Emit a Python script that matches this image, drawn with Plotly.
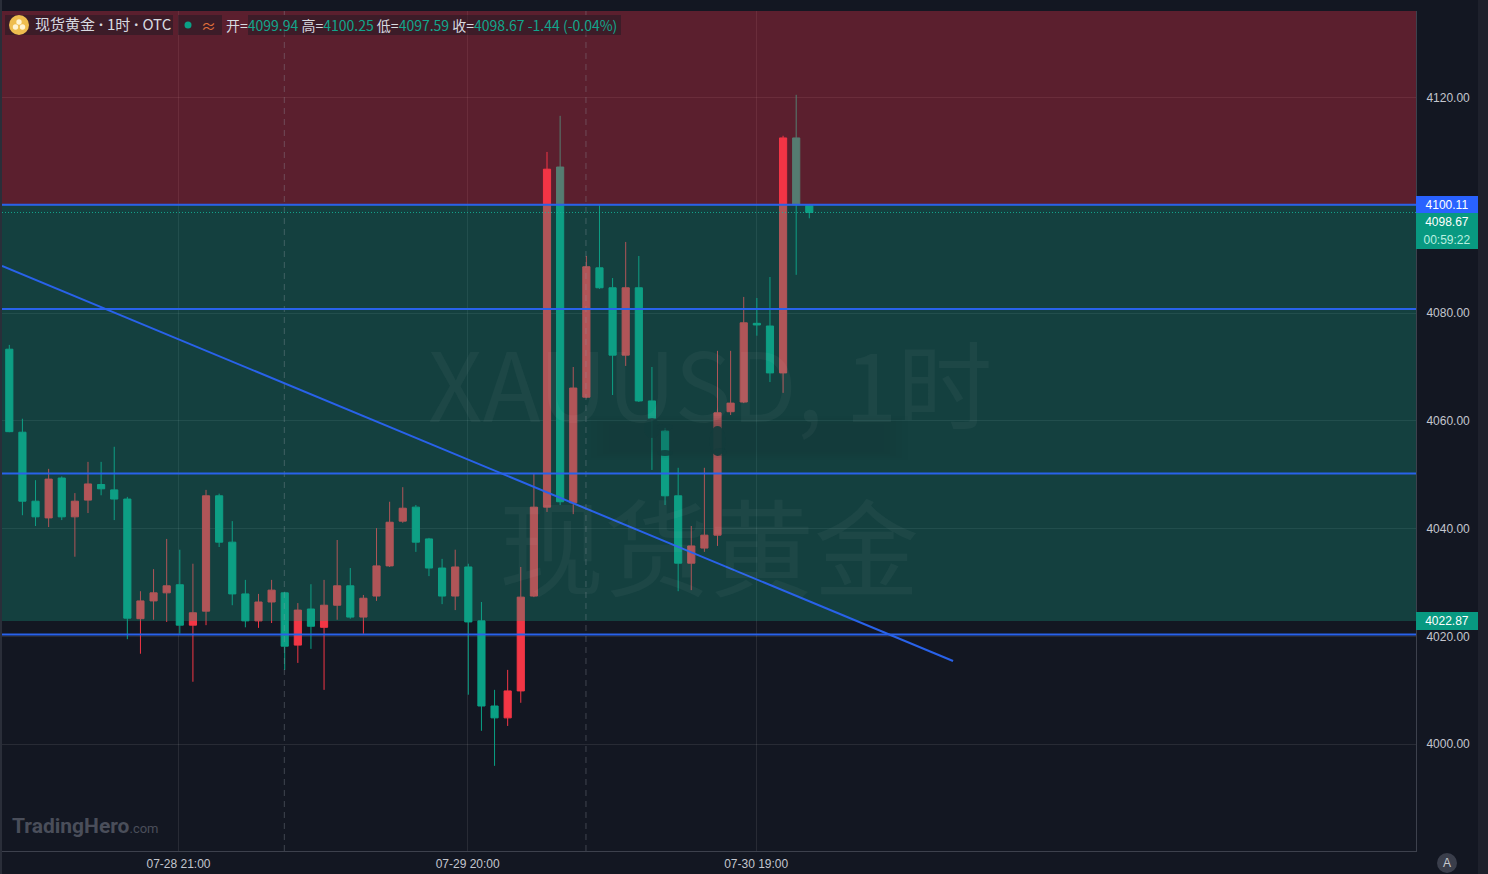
import plotly.graph_objects as go

idx = list(range(62))
opens = [4073.3,4057.9,4045.1,4042.0,4049.4,4042.2,4045.3,4048.2,4047.2,4045.5,
         4023.3,4026.6,4028.1,4029.6,4022.1,4024.7,4046.1,4037.5,4027.9,4022.9,
         4026.4,4028.1,4018.4,4025.1,4021.7,4025.8,4029.4,4023.6,4027.5,4033.1,
         4041.4,4044.0,4038.1,4032.7,4027.5,4032.9,4022.9,4007.1,4004.9,4009.9,
         4027.5,4044.0,4107.1,4044.8,4064.4,4088.4,4084.7,4072.2,4084.7,4063.7,
         4058.1,4046.1,4033.6,4036.4,4038.8,4061.7,4063.5,4078.1,4077.6,4068.9,
         4112.5,4099.94]
highs = [4074.1,4060.4,4049.0,4051.1,4049.7,4046.6,4052.4,4052.4,4055.2,4045.9,
         4028.4,4032.5,4038.1,4036.1,4033.5,4047.2,4046.5,4041.4,4030.5,4027.9,
         4030.5,4028.3,4026.2,4029.7,4030.5,4037.9,4032.7,4027.7,4040.1,4045.0,
         4047.7,4044.4,4038.3,4034.4,4036.1,4033.5,4026.4,4010.1,4013.8,4032.9,
         4050.3,4109.9,4116.6,4070.0,4090.6,4100.2,4086.5,4093.2,4090.6,4070.0,
         4058.7,4051.3,4040.5,4051.3,4073.0,4073.0,4083.0,4082.8,4086.7,4112.9,
         4120.5,4100.25]
lows = [4057.9,4042.5,4040.5,4040.3,4041.6,4034.8,4042.9,4046.2,4041.6,4019.5,
        4016.8,4023.1,4022.7,4020.5,4011.6,4022.1,4036.6,4025.8,4021.7,4021.6,
        4022.5,4013.8,4015.1,4017.7,4010.1,4023.1,4023.3,4020.5,4026.6,4032.9,
        4041.1,4035.7,4031.2,4026.0,4024.9,4009.2,4002.5,3996.0,4003.4,4007.7,
        4027.3,4043.1,4044.4,4042.7,4064.2,4084.5,4064.8,4070.2,4063.5,4050.9,
        4044.4,4028.4,4028.6,4035.7,4036.8,4061.1,4063.3,4075.8,4067.2,4065.2,
        4087.1,4097.59]
closes = [4058.0,4045.1,4042.2,4049.2,4042.2,4045.1,4048.3,4047.4,4045.5,4023.4,
          4026.6,4028.1,4029.4,4022.1,4024.4,4046.1,4037.5,4027.9,4022.9,4026.4,
          4028.6,4018.2,4024.9,4021.9,4025.8,4029.4,4023.6,4027.1,4033.1,4041.2,
          4043.8,4037.5,4032.7,4027.5,4032.9,4022.7,4007.1,4004.9,4009.9,4027.3,
          4044.0,4106.7,4045.0,4066.1,4088.6,4084.7,4072.2,4084.7,4063.7,4060.5,
          4046.1,4033.6,4036.8,4038.8,4061.5,4063.3,4078.2,4077.8,4068.9,4112.5,
          4100.1,4098.67]

price_ticks = [4000, 4020, 4040, 4060, 4080, 4100, 4120]
time_pos = [12.9, 34.95, 56.95]
time_labels = ["07-28 21:00", "07-29 20:00", "07-30 19:00"]
session_lines = [21, 44]
levels = [4100.11, 4080.76, 4050.24, 4020.37]
trend_x = [-0.557, 71.96]
trend_y = [4088.74, 4015.45]
zone_top = 4100.11
zone_bottom = 4022.87
last_price = 4098.67

UP = "#f23645"
DOWN = "#0aa085"
BLUE = "#2962ea"
BG = "#131722"
W, H = 1488, 874
L, R, T, B = 2, 1416, 11, 851


def px(x):
    return (x - L) / (R - L)


def py(y):
    return (B - y) / (B - T)


fig = go.Figure(go.Candlestick(
    x=idx, open=opens, high=highs, low=lows, close=closes,
    increasing=dict(line=dict(color=UP, width=1), fillcolor=UP),
    decreasing=dict(line=dict(color=DOWN, width=1), fillcolor=DOWN),
    whiskerwidth=0, hoverinfo="skip", showlegend=False,
))

shapes = []
# zones
shapes.append(dict(type="rect", xref="paper", yref="y", x0=0, x1=1, y0=zone_top, y1=4136.05,
                   fillcolor="rgba(245,50,70,0.32)", line_width=0, layer="above"))
shapes.append(dict(type="rect", xref="paper", yref="y", x0=0, x1=1, y0=zone_bottom, y1=zone_top,
                   fillcolor="rgba(22,160,132,0.30)", line_width=0, layer="above"))
# obscured patch over the middle of the chart (soft edged, same tone as the zone)
for inset in range(0, 12, 2):
    shapes.append(dict(type="rect", xref="paper", yref="paper",
                       x0=px(585 + inset * 3), x1=px(908 - inset * 3),
                       y0=py(460 - inset), y1=py(416 + inset),
                       fillcolor="rgba(12,52,50,0.05)", line_width=0, layer="above"))
for cx, cy, rx, ry, alpha in [(717.5, 441, 8, 15, 0.92), (665, 453, 8, 3, 0.85), (652, 428, 8, 10, 0.85),
                              (665, 427, 8, 3, 0.6), (720, 452, 7, 4, 0.4)]:
    shapes.append(dict(type="circle", xref="paper", yref="paper",
                       x0=px(cx - rx), x1=px(cx + rx), y0=py(cy + ry), y1=py(cy - ry),
                       fillcolor=f"rgba(18,60,60,{alpha})", line_width=0, layer="above"))
# session separators
for s in session_lines:
    shapes.append(dict(type="line", xref="x", yref="paper", x0=s - 0.03, x1=s - 0.03, y0=0, y1=1,
                       line=dict(color="rgba(150,155,165,0.35)", width=1, dash="6px,5px"), layer="above"))
# price line
shapes.append(dict(type="line", xref="paper", yref="y", x0=0, x1=1, y0=last_price, y1=last_price,
                   line=dict(color="rgba(20,190,160,0.8)", width=1, dash="1px,2px"), layer="above"))
# level lines
for lv in levels:
    shapes.append(dict(type="line", xref="paper", yref="y", x0=0, x1=1, y0=lv, y1=lv,
                       line=dict(color=BLUE, width=2), layer="above"))
shapes.append(dict(type="line", xref="x", yref="y", x0=trend_x[0], x1=trend_x[1], y0=trend_y[0], y1=trend_y[1],
                   line=dict(color=BLUE, width=2), layer="above"))
# chrome: left strip, scrollbar
shapes.append(dict(type="rect", xref="paper", yref="paper", x0=px(0), x1=px(2), y0=py(874), y1=py(0),
                   fillcolor="#2a2e39", line_width=0, layer="above"))
shapes.append(dict(type="rect", xref="paper", yref="paper", x0=px(1478), x1=px(1488), y0=py(874), y1=py(0),
                   fillcolor="#1e212c", line_width=0, layer="above"))
# header backgrounds
for x0, x1 in [(5, 173), (178, 222), (248, 621)]:
    shapes.append(dict(type="rect", xref="paper", yref="paper", x0=px(x0), x1=px(x1), y0=py(35), y1=py(15),
                       fillcolor="rgba(19,23,34,0.42)", line_width=0, layer="above"))
# logo
shapes.append(dict(type="circle", xref="paper", yref="paper", x0=px(9), x1=px(29), y0=py(35), y1=py(15),
                   fillcolor="#eebd4f", line_width=0, layer="above"))
for cx, cy in [(19, 22), (15.5, 27), (22.5, 27)]:
    shapes.append(dict(type="circle", xref="paper", yref="paper", x0=px(cx - 2.7), x1=px(cx + 2.7),
                       y0=py(cy + 2.7), y1=py(cy - 2.7), fillcolor="#fff3d2", line_width=0, layer="above"))
shapes.append(dict(type="circle", xref="paper", yref="paper", x0=px(184.5), x1=px(191.5), y0=py(28.5), y1=py(21.5),
                   fillcolor="#0aa085", line_width=0, layer="above"))
# auto-scale button
shapes.append(dict(type="circle", xref="paper", yref="paper", x0=px(1437), x1=px(1457), y0=py(873), y1=py(853),
                   fillcolor="#3a3e4b", line_width=0, layer="above"))
fig.update_layout(shapes=shapes)

CJK = "Noto Sans CJK SC, Liberation Sans, sans-serif"
NUM = "Liberation Sans, Noto Sans CJK SC, sans-serif"
TEAL = "#12a58c"
ann = []


def note(text, x, y, size, color, family=CJK, anchor="left", **kw):
    ann.append(dict(text=text, xref="paper", yref="paper", x=px(x), y=py(y), xanchor=anchor, yanchor="middle",
                    showarrow=False, font=dict(size=size, color=color, family=family), **kw))


# watermarks
note("XAUUSD, 1时", 710, 380, 95, "rgba(255,255,255,0.04)", anchor="center")
note("现货黄金", 709, 542, 105, "rgba(255,255,255,0.04)", anchor="center")
# header
dot = '<span style="font-size:12px">•</span>'
note(f"现货黄金{dot}1时{dot}OTC", 33, 24, 15, "#d8dae0")
note("≈", 208, 25, 15, "#e0703c", anchor="center")


def pair(label, value):
    return f'{label}=<span style="color:{TEAL}">{value}</span>'


legend_text = " ".join([pair("开", "4099.94"), pair("高", "4100.25"), pair("低", "4097.59"), pair("收", "4098.67")])
legend_text += f' <span style="color:{TEAL}">-1.44 (-0.04%)</span>'
note(legend_text, 224, 25, 14, "#d8dae0")
# logo text
ann.append(dict(text='<b>TradingHero</b><span style="font-size:13px">.com</span>', xref="paper", yref="paper",
                x=px(10), y=py(826), xanchor="left", yanchor="middle", showarrow=False,
                font=dict(size=21, color="#4a4e5a", family="Roboto, Liberation Sans, sans-serif")))
note("A", 1447, 863, 12, "#c8cad0", family=NUM, anchor="center")


def tag(text, price, bg, shift=0, color="#ffffff"):
    ann.append(dict(text=text, xref="paper", yref="y", x=1, y=price, xanchor="left", yanchor="middle",
                    yshift=shift, width=62, height=18, align="center", valign="middle", bgcolor=bg,
                    borderpad=0, borderwidth=0, showarrow=False,
                    font=dict(size=12, color=color, family=NUM)))


tag("4100.11", levels[0], "#2962ff")
tag(f"{last_price:.2f}", last_price, "#089981", shift=-10)
tag("00:59:22", last_price, "#089981", shift=-28, color="#b8f0e0")
tag(f"{zone_bottom:.2f}", zone_bottom, "#089981")

fig.update_layout(
    annotations=ann,
    width=W, height=H,
    margin=dict(l=L, r=W - R, t=T, b=H - B, pad=0),
    paper_bgcolor=BG, plot_bgcolor=BG,
    showlegend=False,
    boxgap=0.22,
    font=dict(family=NUM, size=12, color="#c3c6ce"),
    xaxis=dict(
        range=[-0.557, 107.26], rangeslider=dict(visible=False),
        tickmode="array", tickvals=time_pos, ticktext=time_labels,
        showgrid=True, gridcolor="rgba(255,255,255,0.09)", gridwidth=1, zeroline=False,
        showline=True, linecolor="#3d414d", linewidth=1,
        ticks="outside", ticklen=2, tickcolor="rgba(0,0,0,0)",
        tickfont=dict(size=12, color="#c3c6ce"),
    ),
    yaxis=dict(
        side="right", range=[3980.2, 4136.05],
        tickmode="array", tickvals=price_ticks, ticktext=[f"{p:.2f}" for p in price_ticks],
        showgrid=True, gridcolor="rgba(255,255,255,0.09)", gridwidth=1, zeroline=False,
        showline=True, linecolor="#3d414d", linewidth=1,
        ticks="outside", ticklen=7, tickcolor="rgba(0,0,0,0)",
        tickfont=dict(size=12, color="#c3c6ce"),
    ),
)

fig.write_html("out.html", config={"displayModeBar": False},
               post_script="document.body.style.margin='0';document.body.style.overflow='hidden';")
